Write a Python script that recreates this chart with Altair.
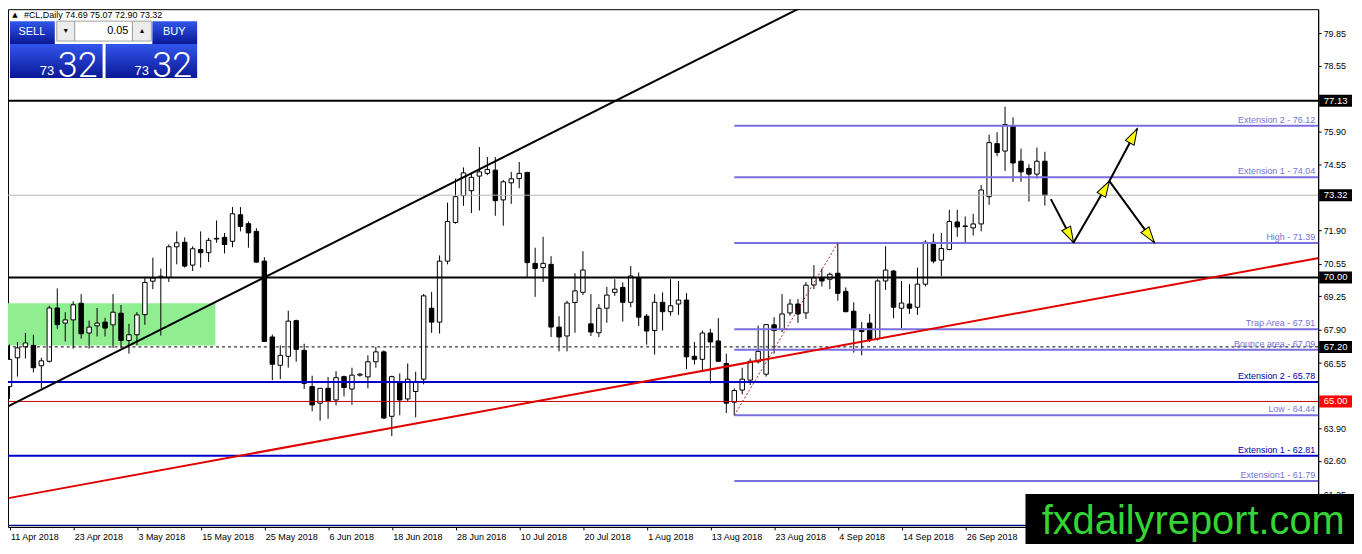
import json
import math
import altair as alt
import pandas as pd

# ---------------- data ----------------
opens = [65.60, 66.76, 67.20, 67.26, 66.44, 66.62, 68.77, 68.16, 68.29, 68.96,
         67.76, 68.05, 68.20, 68.09, 68.56, 67.46, 67.69, 68.50, 69.85, 70.00,
         70.00, 71.24, 71.42, 70.50, 71.13, 71.00, 71.55, 71.62, 71.46, 72.53,
         72.17, 71.86, 70.66, 67.60, 66.46, 66.82, 68.26, 67.06, 65.60, 64.93,
         65.53, 65.06, 66.00, 65.50, 66.06, 65.99, 66.60, 67.00, 64.40, 65.77,
         65.10, 65.40, 65.90, 68.76, 68.20, 70.66, 72.22, 73.30, 73.50, 74.09,
         74.20, 74.33, 73.13, 73.82, 73.99, 74.24, 70.57, 70.40, 70.53, 68.00,
         67.64, 68.99, 69.40, 68.13, 67.77, 68.76, 69.40, 69.60, 69.00, 69.99,
         68.44, 67.86, 69.00, 68.62, 68.93, 69.09, 66.82, 66.70, 67.76, 67.44,
         66.53, 64.97, 65.46, 65.86, 66.60, 66.10, 68.09, 67.90, 68.57, 68.93,
         68.57, 69.70, 70.00, 69.93, 70.17, 69.44, 68.64, 67.93, 68.16, 67.53,
         69.86, 70.26, 68.76, 68.93, 68.80, 69.73, 71.42, 70.70, 71.13, 72.24,
         72.06, 72.00, 72.16, 73.26, 75.40, 75.10, 76.09, 74.69, 74.40, 74.17,
         74.69]
highs = [67.30, 67.40, 67.76, 67.69, 66.76, 68.86, 69.56, 68.60, 69.04, 69.33,
         68.26, 68.77, 68.37, 69.33, 68.89, 68.13, 68.60, 70.00, 70.80, 70.36,
         71.33, 71.86, 71.62, 71.26, 71.86, 71.60, 72.30, 71.80, 72.84, 72.84,
         72.26, 71.99, 70.82, 67.70, 67.26, 68.66, 68.30, 67.33, 66.04, 65.53,
         65.99, 66.22, 66.04, 66.36, 66.15, 66.86, 67.20, 67.06, 66.04, 66.13,
         66.53, 66.20, 69.33, 69.42, 70.89, 73.02, 73.99, 74.44, 74.22, 75.26,
         74.86, 74.86, 73.93, 74.26, 74.66, 74.24, 71.20, 71.64, 70.86, 68.44,
         69.06, 70.17, 71.06, 69.33, 68.93, 69.62, 69.93, 69.80, 70.46, 70.20,
         68.53, 69.33, 69.40, 69.93, 69.86, 69.37, 67.40, 67.86, 67.93, 68.36,
         66.93, 65.53, 66.36, 66.73, 68.06, 68.10, 68.40, 69.33, 69.13, 69.13,
         69.82, 70.50, 70.36, 70.20, 71.42, 69.60, 69.00, 68.20, 68.53, 69.93,
         71.26, 70.30, 69.86, 69.73, 70.40, 71.50, 71.77, 71.80, 72.73, 72.73,
         72.46, 72.57, 73.73, 75.76, 75.86, 76.89, 76.46, 75.20, 74.57, 75.24,
         75.07]
lows = [65.10, 66.00, 66.73, 66.17, 65.53, 66.57, 67.93, 67.42, 67.13, 67.53,
        67.13, 67.62, 67.62, 67.16, 67.16, 66.93, 67.26, 68.09, 69.53, 67.66,
        69.82, 70.53, 70.40, 70.26, 70.40, 70.62, 71.40, 70.97, 71.22, 71.86,
        71.20, 70.60, 67.40, 65.86, 65.90, 66.36, 66.60, 65.50, 64.60, 64.22,
        64.30, 64.84, 65.20, 64.86, 66.00, 65.53, 66.36, 64.30, 63.60, 64.44,
        65.02, 64.36, 65.69, 67.77, 67.74, 70.53, 72.17, 72.89, 72.60, 72.70,
        74.13, 72.49, 72.09, 72.97, 73.60, 70.00, 69.22, 69.82, 67.60, 67.02,
        67.02, 67.77, 69.29, 67.64, 67.60, 68.17, 69.26, 68.22, 68.80, 68.04,
        67.29, 66.89, 67.86, 68.46, 68.49, 66.30, 66.49, 66.20, 65.73, 66.60,
        64.53, 64.44, 65.29, 65.66, 66.53, 66.00, 66.93, 67.80, 68.46, 68.17,
        68.33, 69.53, 69.64, 69.53, 69.06, 68.60, 66.97, 66.86, 67.40, 67.46,
        69.50, 68.36, 67.96, 68.53, 68.49, 69.64, 70.57, 70.06, 71.10, 71.64,
        71.42, 71.69, 71.86, 72.93, 74.89, 74.30, 73.86, 73.86, 73.06, 73.99,
        72.90]
closes = [66.70, 67.16, 67.36, 66.36, 66.64, 68.77, 68.10, 68.29, 68.90, 67.73,
          68.00, 68.16, 67.96, 68.60, 67.46, 67.69, 68.49, 69.80, 69.98, 70.05,
          71.24, 71.40, 70.46, 71.16, 71.00, 71.50, 71.58, 71.33, 72.57, 72.06,
          71.80, 70.62, 67.42, 66.50, 66.86, 68.24, 67.10, 65.73, 64.86, 65.53,
          65.02, 65.96, 65.56, 66.06, 66.10, 66.60, 67.00, 64.33, 66.00, 65.06,
          65.90, 65.77, 69.26, 68.20, 70.66, 72.26, 73.26, 74.22, 74.04, 74.26,
          74.36, 73.10, 73.86, 73.98, 74.20, 70.60, 70.36, 70.57, 68.00, 67.60,
          68.97, 69.46, 70.30, 67.80, 68.76, 69.29, 69.53, 69.00, 70.06, 68.40,
          67.84, 69.00, 68.62, 68.86, 69.09, 66.80, 66.70, 67.76, 67.40, 66.62,
          64.93, 65.44, 65.90, 66.62, 67.02, 68.10, 67.86, 68.53, 68.93, 68.53,
          69.69, 69.99, 69.86, 70.13, 69.36, 68.62, 67.89, 67.82, 67.50, 69.86,
          70.30, 68.80, 68.97, 68.76, 69.73, 71.42, 70.66, 71.17, 72.26, 72.04,
          72.08, 72.16, 73.53, 75.44, 75.04, 76.17, 74.62, 74.26, 74.17, 74.69,
          73.32]

date_labels = ["11 Apr 2018", "23 Apr 2018", "3 May 2018", "15 May 2018",
               "25 May 2018", "6 Jun 2018", "18 Jun 2018", "28 Jun 2018",
               "10 Jul 2018", "20 Jul 2018", "1 Aug 2018", "13 Aug 2018",
               "23 Aug 2018", "4 Sep 2018", "14 Sep 2018", "26 Sep 2018"]
label_bars = [0, 8, 16, 24, 32, 40, 48, 56, 64, 72, 80, 88, 96, 104, 112, 120]
# tick labels that are not hidden behind the price boxes
price_ticks = [79.85, 78.55, 75.90, 74.55, 71.90, 70.55, 69.25,
               67.90, 66.55, 63.90, 62.60, 61.25]

title_text = "#CL,Daily  74.69 75.07 72.90 73.32"
bid_big = "32"
bid_small = "73"
lot_size = "0.05"

bid_level = 73.32
black_levels = [77.13, 70.00]
dashed_level = 67.20
red_level = 65.00
navy_level = 60.00
box_levels = [77.13, 73.32, 70.00, 67.20, 65.00]
box_is_red = [False, False, False, False, True]

fib_levels = [76.12, 74.04, 71.39, 67.91, 67.09, 64.44, 61.79]
fib_names = ["Extension 2", "Extension 1", "High", "Trap Area", "Bounce area",
             "Low", "Extension1"]
fib_start_bar = 91
ext_levels = [65.78, 62.81]
ext_names = ["Extension 2", "Extension 1"]

zone_bars = [-0.19, 25.85]
zone_prices = [67.26, 68.96]

black_trend_bars = [-0.125, 99.875]
black_trend_prices = [64.81, 80.97]
red_trend_bars = [-0.125, 164.75]
red_trend_prices = [61.10, 70.81]
fibo_trend_bars = [91, 104]
fibo_trend_prices = [64.44, 71.39]

arrow_start_bars = [130.75, 133.6, 138.1, 138.1]
arrow_start_prices = [73.16, 71.41, 73.89, 73.89]
arrow_end_bars = [133.6, 138.1, 141.6, 143.75]
arrow_end_prices = [71.41, 73.89, 76.00, 71.41]

watermark = "fxdailyreport.com"

# ---------------- layout / scales ----------------
W, H = 1316, 520
PX_BAR = 8.0
PX_PRICE = 24.9
i_min = -1.5 / PX_BAR
i_max = i_min + W / PX_BAR
p_top = 70.0 + 269.5 / PX_PRICE
p_bot = p_top - H / PX_PRICE

FONT = "Liberation Sans"
xs = alt.Scale(domain=[i_min, i_max], nice=False, zero=False)
ys = alt.Scale(domain=[p_bot, p_top], nice=False, zero=False)

label_expr = f"{json.dumps(date_labels)}[indexof({json.dumps(label_bars)}, datum.value)]"
x_axis = alt.Axis(values=label_bars, labelExpr=label_expr, title=None, grid=False,
                  labelAlign="left", labelBaseline="top", labelOffset=1,
                  labelFont=FONT, labelFontSize=9, labelColor="black",
                  tickSize=3, tickColor="black", domainColor="black",
                  labelPadding=3, labelOverlap=False, labelFlush=False)
y_axis = alt.Axis(values=price_ticks, format=".2f", orient="right", title=None,
                  grid=False, labelFont=FONT, labelFontSize=9, labelColor="black",
                  tickSize=3, tickColor="black", domainColor="black",
                  labelPadding=2, labelOverlap=False, labelFlush=False)


def X(f):
    return alt.X(f, type="quantitative", scale=xs, axis=x_axis)


def Y(f):
    return alt.Y(f, type="quantitative", scale=ys, axis=y_axis)


n = len(opens)
candles = pd.DataFrame({"i": list(range(n)), "o": opens, "h": highs,
                        "l": lows, "c": closes})
candles["xl"] = candles["i"] - 0.28
candles["xr"] = candles["i"] + 0.28
candles["fill"] = ["white" if c >= o else "black" for o, c in zip(opens, closes)]

layers = []

# green zone
zone = pd.DataFrame({"x0": [zone_bars[0]], "x1": [zone_bars[1]],
                     "y0": [zone_prices[0]], "y1": [zone_prices[1]]})
layers.append(alt.Chart(zone).mark_rect(color="#90EE90", clip=True).encode(
    x=X("x0"), x2="x1", y=Y("y0"), y2="y1"))

# candles
layers.append(alt.Chart(candles).mark_rule(color="black", strokeWidth=1).encode(
    x=X("i"), y=Y("l"), y2="h"))
layers.append(alt.Chart(candles).mark_rect(stroke="black", strokeWidth=1).encode(
    x=X("xl"), x2="xr", y=Y("o"), y2="c", fill=alt.Fill("fill:N", scale=None)))


def hline(levels, **kw):
    return alt.Chart(pd.DataFrame({"p": levels})).mark_rule(**kw).encode(y=Y("p"))


layers.append(hline([bid_level], color="#b4b4b4", strokeWidth=1))
layers.append(hline([navy_level], color="#000080", strokeWidth=1.3))
layers.append(hline([red_level], color="#c00000", strokeWidth=1))
layers.append(hline([dashed_level], color="black", strokeWidth=1, strokeDash=[3, 3]))
layers.append(hline(ext_levels, color="#0000CD", strokeWidth=2))
layers.append(hline(black_levels, color="black", strokeWidth=2))

# fib lines from the swing low to the right edge
fib = pd.DataFrame({"p": fib_levels, "x0": [fib_start_bar] * len(fib_levels),
                    "t": [f"{nm} - {lv:.2f}" for nm, lv in zip(fib_names, fib_levels)]})
layers.append(alt.Chart(fib).mark_rule(color="#7B6FE0", strokeWidth=2).encode(
    x=X("x0"), x2=alt.value(W), y=Y("p")))


def seg(bars, prices, **kw):
    df = pd.DataFrame({"x0": [bars[0]], "x1": [bars[1]],
                       "y0": [prices[0]], "y1": [prices[1]]})
    return alt.Chart(df).mark_rule(clip=True, **kw).encode(
        x=X("x0"), x2="x1", y=Y("y0"), y2="y1")


layers.append(seg(red_trend_bars, red_trend_prices, color="#E00000", strokeWidth=2))
layers.append(seg(black_trend_bars, black_trend_prices, color="black", strokeWidth=2))
layers.append(seg(fibo_trend_bars, fibo_trend_prices, color="#B22222",
                  strokeWidth=1, strokeDash=[2, 2]))

# line labels
layers.append(alt.Chart(fib).mark_text(
    align="right", baseline="alphabetic", dy=-3, font=FONT, fontSize=9,
    color="#7474D4").encode(x=alt.value(W - 3), y=Y("p"), text="t"))
ext = pd.DataFrame({"p": ext_levels,
                    "t": [f"{nm} - {lv:.2f}" for nm, lv in zip(ext_names, ext_levels)]})
layers.append(alt.Chart(ext).mark_text(
    align="right", baseline="alphabetic", dy=-3, font=FONT, fontSize=9,
    color="#0000A8").encode(x=alt.value(W - 3), y=Y("p"), text="t"))

# arrows
arr = pd.DataFrame({"x1": arrow_start_bars, "y1": arrow_start_prices,
                    "x2": arrow_end_bars, "y2": arrow_end_prices})
layers.append(alt.Chart(arr).mark_rule(color="black", strokeWidth=2).encode(
    x=X("x1"), y=Y("y1"), x2="x2", y2="y2"))
HEAD_R = 8.0
heads = []
for a, b, c, d in zip(arrow_start_bars, arrow_start_prices, arrow_end_bars, arrow_end_prices):
    dx = (c - a) * PX_BAR
    dy = (d - b) * PX_PRICE
    L = math.hypot(dx, dy)
    heads.append({"hx": c - (c - a) * HEAD_R / L, "hy": d - (d - b) * HEAD_R / L,
                  "ang": math.degrees(math.atan2(dx, dy)) % 360})
layers.append(alt.Chart(pd.DataFrame(heads)).mark_point(
    shape="M0,-1L0.62,1L-0.62,1Z", filled=True, fill="#FFFF00", stroke="black",
    strokeWidth=1, size=HEAD_R * HEAD_R * 4, opacity=1).encode(
    x=X("hx"), y=Y("hy"), angle=alt.Angle("ang:Q", scale=None)))

# price boxes on the axis
boxes = pd.DataFrame({"p": box_levels, "t": [f"{v:.2f}" for v in box_levels],
                      "col": ["#FF0000" if r else "black" for r in box_is_red]})
layers.append(alt.Chart(boxes).mark_rule(strokeWidth=12).encode(
    x=alt.value(W + 1), x2=alt.value(W + 34), y=Y("p"),
    color=alt.Color("col:N", scale=None)))
layers.append(alt.Chart(boxes).mark_text(
    color="white", font=FONT, fontSize=9.5, align="center", baseline="middle").encode(
    x=alt.value(W + 17.5), y=Y("p"), text="t"))

# ---------------- overlays (trading panel, title, watermark) ----------------
one = pd.DataFrame({"k": [0]})


def px_rect(x, y, x2, y2, **kw):
    return alt.Chart(one).mark_rect(**kw).encode(
        x=alt.value(x), x2=alt.value(x2), y=alt.value(y), y2=alt.value(y2))


def px_text(x, y, txt, **kw):
    return alt.Chart(one).mark_text(text=txt, **kw).encode(x=alt.value(x), y=alt.value(y))


blue_grad = {"gradient": "linear", "x1": 0, "y1": 0, "x2": 0, "y2": 1,
             "stops": [{"offset": 0, "color": "#3156EC"},
                       {"offset": 1, "color": "#0A1896"}]}
layers.append(px_text(7, 6, "\u25b2", font="DejaVu Sans", fontSize=7,
                      align="center", baseline="middle", color="black"))
layers.append(px_text(16, 6, title_text, font=FONT, fontSize=9, align="left",
                      baseline="middle", color="black"))
layers.append(px_rect(2, 12, 47, 35, fill=blue_grad))
layers.append(px_rect(2, 35, 95, 69, fill=blue_grad))
layers.append(px_rect(145, 12, 190, 35, fill=blue_grad))
layers.append(px_rect(98, 35, 190, 69, fill=blue_grad))
layers.append(px_rect(49, 12, 67, 32, fill="#ECECEC", stroke="#A0A0A0", strokeWidth=1))
layers.append(px_rect(67, 12, 125, 32, fill="white", stroke="#A0A0A0", strokeWidth=1))
layers.append(px_rect(125, 12, 144, 32, fill="#ECECEC", stroke="#A0A0A0", strokeWidth=1))
layers.append(px_text(58, 22, "\u25be", font="DejaVu Sans", fontSize=8,
                      align="center", baseline="middle", color="black"))
layers.append(px_text(134.5, 22, "\u25b4", font="DejaVu Sans", fontSize=8,
                      align="center", baseline="middle", color="black"))
layers.append(px_text(121, 22, lot_size, font=FONT, fontSize=11, align="right",
                      baseline="middle", color="black"))
layers.append(px_text(24, 23, "SELL", font=FONT, fontSize=11, align="center",
                      baseline="middle", color="white"))
layers.append(px_text(167, 23, "BUY", font=FONT, fontSize=11, align="center",
                      baseline="middle", color="white"))
for bx in (32, 127):
    layers.append(px_text(bx, 66, bid_small, font=FONT, fontSize=13, align="left",
                          baseline="alphabetic", color="white"))
    layers.append(px_text(bx + 18, 68, bid_big, font="Roboto", fontSize=36,
                          fontWeight=300, align="left", baseline="alphabetic",
                          color="white"))

layers.append(px_rect(1022, 487, W + 40, H + 20, fill="black"))
layers.append(px_text(1190.5, 527, watermark, font=FONT, fontSize=40,
                      align="center", baseline="alphabetic", color="#35D435"))

chart = alt.layer(*layers).properties(
    width=W, height=H,
    padding={"left": 0, "top": 0, "right": 36, "bottom": 16},
    autosize=alt.AutoSizeParams(type="none"),
    background="white",
).configure_view(stroke="black", strokeWidth=1)

chart.save("out.html", embed_options={"renderer": "svg", "actions": False})
